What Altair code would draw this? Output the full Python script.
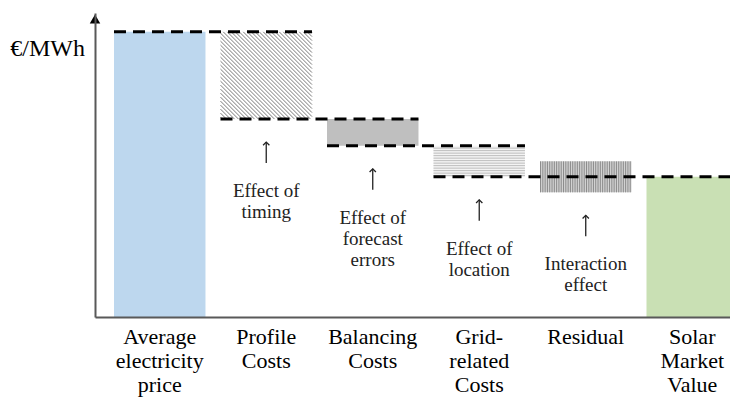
import altair as alt
import pandas as pd

# ---- data (schematic waterfall, €/MWh, arbitrary units) ----
labels = ["Average\nelectricity\nprice", "Profile\nCosts", "Balancing\nCosts",
          "Grid-\nrelated\nCosts", "Residual", "Solar\nMarket\nValue"]
bar_top = [93.8, 93.8, 65.1, 56.3, 51.2, 46.1]
bar_bottom = [0.0, 65.1, 56.3, 46.1, 41.0, 0.0]
notes = ["", "Effect of\ntiming", "Effect of\nforecast\nerrors", "Effect of\nlocation",
         "Interaction\neffect", ""]
dash_from = [0, 1, 2, 3]
dash_to = [1, 2, 3, 5]
dash_level = [93.8, 65.1, 56.3, 46.1]
y_unit = ["€/MWh"]

# ---- styles ----
fills = ["#bdd7ee", "#ffffff", "#bfbfbf", "#f4f4f4", "#d2d2d2", "#c9e0b4"]
patterns = ["none", "diag", "none", "hlines", "vlines", "none"]
FONT = "Liberation Serif"
BAR = 0.859
W, H = 635, 304
KX = 106.5
XMIN = -0.1784
XMAX = XMIN + W / KX
KY = H / 100.0

df = pd.DataFrame({"i": list(range(len(labels))), "label": labels, "top": bar_top,
                   "bottom": bar_bottom, "note": notes, "fill": fills, "pattern": patterns})
df["x0"] = df["i"].astype(float)
df["x1"] = df["i"] + BAR
df["xc"] = df["i"] + BAR / 2

dash = pd.DataFrame({"x0": [float(a) for a in dash_from],
                     "x1": [b + BAR for b in dash_to], "y": dash_level})

xs = alt.Scale(domain=[XMIN, XMAX], nice=False, zero=False)
ys = alt.Scale(domain=[0, 100], nice=False, zero=True)
axis_style = dict(labels=False, ticks=False, title=None, grid=False,
                  domainColor="#595959", domainWidth=2, zindex=1)

base = alt.Chart(df)

bars = base.mark_rect(strokeWidth=0).encode(
    x=alt.X("x0:Q", scale=xs, axis=alt.Axis(**axis_style)),
    x2="x1:Q",
    y=alt.Y("bottom:Q", scale=ys, axis=alt.Axis(**axis_style)),
    y2="top:Q",
    fill=alt.Fill("fill:N", scale=None),
)

hlines = base.transform_filter("datum.pattern == 'hlines'").transform_calculate(
    yy=f"sequence(datum.bottom + 0.4, datum.top, {2.5 / KY})"
).transform_flatten(["yy"]).mark_rule(color="#bdbdbd", strokeWidth=1).encode(
    x="x0:Q", x2="x1:Q", y="yy:Q")

vlines = base.transform_filter("datum.pattern == 'vlines'").transform_calculate(
    xx=f"sequence(datum.x0 + 0.005, datum.x1, {2.3 / KX})"
).transform_flatten(["xx"]).mark_rule(color="#8a8a8a", strokeWidth=1).encode(
    x="xx:Q", y="bottom:Q", y2="top:Q")

diag = base.transform_filter("datum.pattern == 'diag'").transform_calculate(
    u0=f"datum.x0 * {KX}", u1=f"datum.x1 * {KX}",
    v0=f"datum.bottom * {KY}", v1=f"datum.top * {KY}",
).transform_calculate(
    s="sequence(datum.u0 + datum.v0 + 2, datum.u1 + datum.v1, 4)"
).transform_flatten(["s"]).transform_calculate(
    ua="max(datum.u0, datum.s - datum.v1)",
    ub="min(datum.u1, datum.s - datum.v0)",
).transform_calculate(
    xa=f"datum.ua / {KX}", ya=f"(datum.s - datum.ua) / {KY}",
    xb=f"datum.ub / {KX}", yb=f"(datum.s - datum.ub) / {KY}",
).mark_rule(color="#7a7a7a", strokeWidth=1).encode(
    x="xa:Q", y="ya:Q", x2="xb:Q", y2="yb:Q")

dashed = alt.Chart(dash).mark_rule(color="black", strokeWidth=3, strokeDash=[12, 7]).encode(
    x="x0:Q", x2="x1:Q", y="y:Q")

noted = base.transform_filter("datum.note != ''").transform_calculate(
    a_tip=f"datum.bottom - {23 / KY}", a_end=f"datum.bottom - {44 / KY}")
arrow_shaft = noted.mark_rule(color="#222222", strokeWidth=1.3).encode(
    x="xc:Q", y="a_tip:Q", y2="a_end:Q")
arrow_tip = noted.mark_point(shape="M-1,1L0,0L1,1", filled=False, color="#222222",
                             strokeWidth=1.3, size=40, opacity=1).encode(
    x="xc:Q", y="a_tip:Q")
note_text = noted.mark_text(font=FONT, fontSize=19, lineBreak="\n", lineHeight=21,
                            baseline="alphabetic", dy=78, color="#222222").encode(
    x="xc:Q", y="bottom:Q", text="note:N")

cat_text = base.mark_text(font=FONT, fontSize=22, lineBreak="\n", lineHeight=24,
                          baseline="alphabetic", color="black").encode(
    x="xc:Q", y=alt.value(331), text="label:N")

unit_df = pd.DataFrame({"t": y_unit})
unit_text = alt.Chart(unit_df).mark_text(font=FONT, fontSize=24, align="right",
                                         baseline="middle", color="black").encode(
    x=alt.value(-10), y=alt.value(36), text="t:N")
arrow_head = alt.Chart(unit_df).mark_point(shape="triangle-up", filled=True, color="black",
                                           size=110, opacity=1).encode(
    x=alt.value(0), y=alt.value(6))

chart = alt.layer(bars, hlines, vlines, diag, dashed, arrow_shaft, arrow_tip, note_text,
                  cat_text, unit_text, arrow_head).properties(
    width=W, height=H,
    padding={"left": 87, "top": 5, "right": 0, "bottom": 80},
    autosize=alt.AutoSizeParams(type="none"),
).configure_view(stroke=None)

chart.save("out.html", embed_options={"renderer": "svg", "actions": False})
